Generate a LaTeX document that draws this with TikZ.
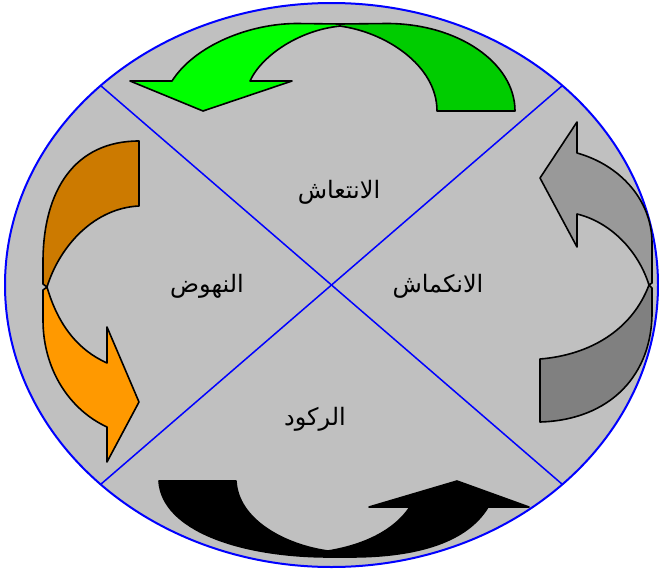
\documentclass[tikz,border=0pt]{standalone}
\usepackage{fontspec}
\newfontfamily\arabicfont[Script=Arabic]{DejaVu Sans}
\TeXXeTstate=1
\usepackage{tikz}
\usetikzlibrary{calc}
\definecolor{discgray}{RGB}{192,192,192}
\definecolor{greenback}{RGB}{0,204,0}
\definecolor{greenfront}{RGB}{0,255,0}
\definecolor{orangeback}{RGB}{204,122,0}
\definecolor{orangefront}{RGB}{255,153,0}
\definecolor{grayback}{RGB}{128,128,128}
\definecolor{grayfront}{RGB}{153,153,153}
\tikzset{band/.style={draw=black, line width=1.6pt, line join=round}}
\tikzset{phase/.style={font=\arabicfont\fontsize{24}{28}\selectfont, inner sep=0pt}}

\begin{document}
\begin{tikzpicture}[x=1pt, y=-1pt]
  \useasboundingbox (0,0) rectangle (659,573);
  \coordinate (c) at (331.5,285);
  \draw[fill=discgray, draw=blue, line width=2pt] (c) ellipse [x radius=326.5, y radius=282];
  \coordinate (ne) at ($(c)+(45:326.5 and 282)$);
  \coordinate (nw) at ($(c)+(135:326.5 and 282)$);
  \coordinate (sw) at ($(c)+(225:326.5 and 282)$);
  \coordinate (se) at ($(c)+(315:326.5 and 282)$);
  \draw[blue, line width=1.5pt] (ne) -- (sw);
  \draw[blue, line width=1.5pt] (nw) -- (se);

  % top arrow
  \draw[band, fill=greenback] (437,111) -- (515,111) .. controls (515,62.7) and (457.7,23.5) .. (387,23.5)
    -- (340,24) -- (340,26.1) .. controls (385,32) and (437,65) .. (437,111) -- cycle;
  \draw[band, fill=greenfront] (340,26.1) .. controls (300,30) and (262,55) .. (250,81)
    -- (292,81) -- (203,111) -- (130,81) -- (172,81)
    .. controls (195,45) and (250,23.5) .. (297,23.5) -- (340,24) -- cycle;

  % left arrow
  \draw[band, fill=orangeback] (139,141) -- (139,206) .. controls (95,208) and (60,245) .. (47,287)
    -- (43,284) -- (43,262) .. controls (43,190) and (75,141) .. (139,141) -- cycle;
  \draw[band, fill=orangefront] (47,287) .. controls (58,325) and (78,350) .. (107,363)
    -- (107,327) -- (139,402) -- (107,462) -- (107,427)
    .. controls (70,410) and (43,370) .. (43,320) -- (43,290) -- cycle;

  % right arrow
  \draw[band, fill=grayfront] (577,214) -- (577,247) -- (540,178) -- (577,122) -- (577,153)
    .. controls (620,165) and (652,200) .. (652,243) -- (652,283) -- (649,285)
    .. controls (638,250) and (610,222) .. (577,214) -- cycle;
  \draw[band, fill=grayback] (649,285) -- (652,288) -- (652,310) .. controls (653,375) and (610,420) .. (540,422)
    -- (540,359) .. controls (590,355) and (632,330) .. (649,285) -- cycle;

  % bottom arrow
  \draw[band, fill=black] (159,481) -- (236,481) .. controls (238,520) and (285,545) .. (328,551)
    -- (330,557) .. controls (240,557) and (162,530) .. (159,481) -- cycle;
  \draw[band, fill=black] (328,551) .. controls (365,545) and (395,530) .. (410,507)
    -- (369,507) -- (457,481) -- (529,507) -- (488,507)
    .. controls (465,545) and (410,557) .. (350,557) -- (330,557) -- cycle;

  \node[phase] (boom) at (339,192) {\beginR الانتعاش\endR};
  \node[phase] (recovery) at (207,286) {\beginR النهوض\endR};
  \node[phase] (recession) at (438,286) {\beginR الانكماش\endR};
  \node[phase] (slump) at (315,419) {\beginR الركود\endR};
\end{tikzpicture}
\end{document}
